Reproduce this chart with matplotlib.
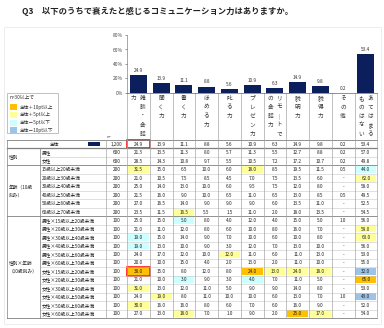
import numpy as np
import matplotlib
matplotlib.use("Agg")
import matplotlib.pyplot as plt
from matplotlib.patches import Rectangle

plt.rcParams['font.family'] = ['Noto Sans CJK JP', 'DejaVu Sans']

# data
title = "Q3　以下のうちで衰えたと感じるコミュニケーション力はありますか。"
headers = [["雑談・会話", "力"], ["聞く力"], ["書く力"], ["ほめる力"], ["叱る力"],
           ["プレゼン力"], ["リモ｜トで", "の会話力"], ["説明力"], ["説得力"],
           ["その他"], ["あてはまる", "ものはない"]]

total = [24.9, 13.9, 11.1, 8.8, 5.6, 10.9, 6.3, 14.9, 9.8, 0.2, 53.4]

group_names = ["性別", "年齢（10歳\n刻み）", "性別×年齢\n（10歳刻み）"]
group_sizes = [2, 6, 12]

row_labels = ["男性", "女性",
              "15歳以上20歳未満", "20歳以上30歳未満", "30歳以上40歳未満",
              "40歳以上50歳未満", "50歳以上60歳未満", "60歳以上70歳未満",
              "男性×15歳以上20歳未満", "男性×20歳以上30歳未満", "男性×30歳以上40歳未満",
              "男性×40歳以上50歳未満", "男性×50歳以上60歳未満", "男性×60歳以上70歳未満",
              "女性×15歳以上20歳未満", "女性×20歳以上30歳未満", "女性×30歳以上40歳未満",
              "女性×40歳以上50歳未満", "女性×50歳以上60歳未満", "女性×60歳以上70歳未満"]
row_n = [600, 600, 200, 200, 200, 200, 200, 200,
         100, 100, 100, 100, 100, 100, 100, 100, 100, 100, 100, 100]

rows = [
    [21.3, 13.5, 11.3, 8.0, 5.7, 11.3, 5.5, 12.7, 8.8, 0.2, 57.0],
    [28.5, 14.3, 10.8, 9.7, 5.5, 10.5, 7.2, 17.2, 10.7, 0.2, 49.8],
    [31.5, 15.0, 6.5, 10.0, 6.0, 18.0, 8.5, 19.5, 11.5, 0.5, 44.0],
    [21.0, 10.5, 7.5, 8.5, 4.5, 7.0, 7.5, 13.5, 6.0, 0, 62.0],
    [25.0, 14.0, 13.0, 10.0, 6.0, 9.5, 7.5, 12.0, 8.0, 0, 58.0],
    [21.5, 16.0, 9.0, 10.0, 6.5, 11.0, 6.5, 13.0, 8.5, 0.5, 49.5],
    [27.0, 16.5, 14.0, 9.0, 9.0, 9.0, 6.0, 13.5, 11.0, 0, 52.5],
    [23.5, 11.5, 16.5, 5.5, 1.5, 11.0, 2.0, 18.0, 13.5, 0, 54.5],
    [25.0, 15.0, 5.0, 8.0, 4.0, 12.0, 4.0, 15.0, 5.0, 1.0, 56.0],
    [21.0, 11.0, 12.0, 8.0, 6.0, 10.0, 8.0, 16.0, 7.0, 0, 59.0],
    [19.0, 15.0, 14.0, 9.0, 7.0, 10.0, 6.0, 10.0, 8.0, 0, 63.0],
    [19.0, 13.0, 10.0, 9.0, 3.0, 12.0, 7.0, 13.0, 10.0, 0, 56.0],
    [24.0, 17.0, 12.0, 10.0, 12.0, 11.0, 6.0, 11.0, 13.0, 0, 53.0],
    [20.0, 10.0, 15.0, 4.0, 2.0, 13.0, 2.0, 11.0, 10.0, 0, 55.0],
    [38.0, 15.0, 8.0, 12.0, 8.0, 24.0, 13.0, 24.0, 18.0, 0, 32.0],
    [21.0, 10.0, 3.0, 9.0, 3.0, 4.0, 7.0, 11.0, 5.0, 0, 65.0],
    [31.0, 13.0, 12.0, 11.0, 5.0, 9.0, 9.0, 14.0, 8.0, 0, 53.0],
    [24.0, 19.0, 8.0, 11.0, 10.0, 10.0, 6.0, 13.0, 7.0, 1.0, 43.0],
    [30.0, 16.0, 16.0, 8.0, 6.0, 7.0, 6.0, 16.0, 9.0, 0, 52.0],
    [27.0, 13.0, 18.0, 7.0, 1.0, 9.0, 2.0, 25.0, 17.0, 0, 54.0],
]

legend_labels = ["全体＋10pt以上", "全体＋5pt以上", "全体－5pt以下", "全体－10pt以下"]
legend_colors = ["#FFC000", "#FFFF99", "#CCFFFF", "#9DC3E6"]

navy = "#0B1F5C"
grid = "#A6A6A6"

# layout in pixels
W, H = 384, 328
COL0, COL_W = 127.0, 22.75
N_LEFT, SUB_LEFT, LEFT = 106.0, 40.0, 7.0
TOP, ROW_H = 140.0, 8.48
RIGHT = COL0 + 11 * COL_W
fs = 3.4

fig = plt.figure(figsize=(W / 100, H / 100), dpi=100)
ax = fig.add_axes([0, 0, 1, 1])
ax.set_xlim(0, W)
ax.set_ylim(H, 0)
ax.axis('off')

ax.text(22, 11, title, fontsize=6.0, fontweight='bold', va='center', ha='left', color='#222222')
ax.add_patch(Rectangle((4, 27), 377, 297, fill=False, ec='#E6E6E6', lw=0.5))

# bar chart
bx = fig.add_axes([COL0 / W, 1 - 93 / H, (RIGHT - COL0) / W, (93 - 35) / H])
bx.bar(np.arange(11), total, width=0.75, color=navy)
bx.set_xlim(-0.5, 10.5)
bx.set_ylim(0, 80)
bx.set_yticks([0, 20, 40, 60, 80])
bx.set_yticklabels(["0%", "20%", "40%", "60%", "80%"])
bx.tick_params(axis='y', labelsize=3.5, length=1.5, width=0.4, pad=1.5, colors='#444444')
bx.set_xticks([])
for s in ['top', 'right']:
    bx.spines[s].set_visible(False)
bx.spines['left'].set_linewidth(0.4)
bx.spines['bottom'].set_linewidth(0.5)
bx.spines['left'].set_color('#666666')
bx.spines['bottom'].set_color('#666666')
bx.patch.set_alpha(0)
for i, v in enumerate(total):
    bx.text(i, v + 3, f"{v:.1f}", ha='center', va='bottom', fontsize=3.4, color='#333333')

# header vertical text
for j, parts in enumerate(headers):
    cx = COL0 + (j + 0.5) * COL_W
    offs = [0.0] if len(parts) == 1 else [4.5, -4.5]
    for part, off in zip(parts, offs):
        for k, ch in enumerate(part):
            ax.text(cx + off, 98 + k * 9, ch, ha='center', va='center', fontsize=4.1, color='#333333')
for j in range(12):
    x = COL0 + j * COL_W
    ax.plot([x, x], [93, TOP], color=grid, lw=0.5)
ax.text(107, 137, "n=", fontsize=2.8, color='#444444', va='center')

# legend
ax.add_patch(Rectangle((7, 93), 51, 40, fill=True, fc='white', ec=grid, lw=0.5))
ax.text(10, 97.5, "n=30以上で", fontsize=3.4, va='center', color='#333333')
for i, (lab, col) in enumerate(zip(legend_labels, legend_colors)):
    y = 107 + i * 7.8
    ax.add_patch(Rectangle((10, y - 3), 7, 6, fc=col, ec='none'))
    ax.text(20, y, lab, fontsize=3.4, va='center', color='#333333')

# table
def cell_color(v, base):
    d = v - base
    if d >= 10:
        return legend_colors[0]
    if d >= 5:
        return legend_colors[1]
    if d <= -10:
        return legend_colors[3]
    if d <= -5:
        return legend_colors[2]
    return None

def fmt(v):
    return "-" if v == 0 else f"{v:.1f}"

n_rows = 1 + len(rows)
bottom = TOP + n_rows * ROW_H

# total row
cy = TOP + ROW_H / 2
ax.text(55, cy, "全体", ha='center', va='center', fontsize=fs, color='#222222')
ax.add_patch(Rectangle((88, cy - 2), 12, 4, fc=navy, ec='none'))
ax.text(N_LEFT + 10.5, cy, "1,200", ha='center', va='center', fontsize=fs, color='#222222')
for j, v in enumerate(total):
    ax.text(COL0 + (j + 0.5) * COL_W, cy, fmt(v), ha='center', va='center', fontsize=fs, color='#222222')

# other rows
for i, (lab, n, vals) in enumerate(zip(row_labels, row_n, rows)):
    ytop = TOP + (i + 1) * ROW_H
    cy = ytop + ROW_H / 2
    ax.text(SUB_LEFT + 2, cy, lab, ha='left', va='center', fontsize=fs, color='#222222')
    ax.text(N_LEFT + 10.5, cy, f"{n:,}", ha='center', va='center', fontsize=fs, color='#222222')
    for j, v in enumerate(vals):
        x0 = COL0 + j * COL_W
        c = cell_color(v, total[j]) if n >= 30 else None
        if c:
            ax.add_patch(Rectangle((x0 + 0.8, ytop + 0.8), COL_W - 1.6, ROW_H - 1.6, fc=c, ec='none'))
        ax.text(x0 + COL_W / 2, cy, fmt(v), ha='center', va='center', fontsize=fs, color='#222222')

# horizontal lines
ax.plot([LEFT, RIGHT], [TOP, TOP], color='#7F7F7F', lw=0.6)
ax.plot([LEFT, RIGHT], [TOP + ROW_H, TOP + ROW_H], color='#7F7F7F', lw=0.9)
start = 1
for g, size in zip(group_names, group_sizes):
    y0 = TOP + start * ROW_H
    y1 = TOP + (start + size) * ROW_H
    ax.text(LEFT + 1.5, (y0 + y1) / 2, g, ha='left', va='center', fontsize=fs,
            color='#222222', linespacing=1.6)
    for r in range(start + 1, start + size):
        yy = TOP + r * ROW_H
        ax.plot([SUB_LEFT, RIGHT], [yy, yy], color='#C8C8C8', lw=0.4)
    ax.plot([LEFT, RIGHT], [y1, y1], color='#7F7F7F', lw=0.6)
    start += size

# vertical lines
ax.plot([LEFT, LEFT], [TOP, bottom], color='#7F7F7F', lw=0.5)
ax.plot([SUB_LEFT, SUB_LEFT], [TOP + ROW_H, bottom], color='#7F7F7F', lw=0.5)
ax.plot([N_LEFT, N_LEFT], [TOP, bottom], color=grid, lw=0.5)
for j in range(12):
    x = COL0 + j * COL_W
    ax.plot([x, x], [TOP, bottom], color=grid, lw=0.5)

# red emphasis boxes
ax.add_patch(Rectangle((COL0, TOP), COL_W, ROW_H, fill=False, ec='#FF0000', lw=1.1))
ax.add_patch(Rectangle((COL0, TOP + 15 * ROW_H), COL_W, ROW_H, fill=False, ec='#FF0000', lw=1.1))

fig.savefig("out.png", dpi=100)
